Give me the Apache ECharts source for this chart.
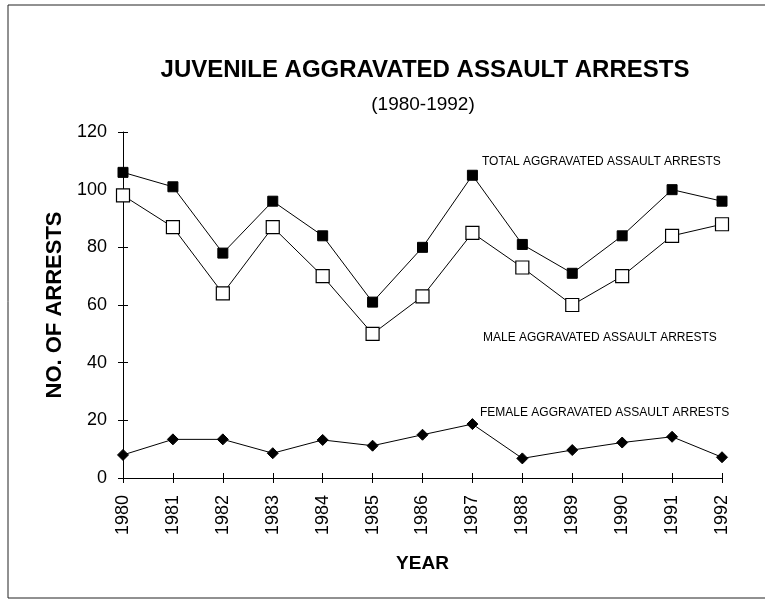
<!DOCTYPE html>
<html><head><meta charset="utf-8">
<script src="https://cdn.jsdelivr.net/npm/echarts@6/dist/echarts.min.js"></script>
<style>html,body{margin:0;padding:0;background:#fff}#c{width:765px;height:604px}</style>
</head><body><div id="c"></div>
<script>
var years = ['1980','1981','1982','1983','1984','1985','1986','1987','1988','1989','1990','1991','1992'];
var totalArrests = [106,101,78,96,84,61,80,105,81,71,84,100,96];
var maleArrests = [98,87,64,87,70,50,63,85,73,60,70,84,88];
var femaleArrests = [8,13.4,13.4,8.6,13.2,11.2,15,18.7,6.8,9.7,12.3,14.3,7.2];
var yTicks = [0,20,40,60,80,100,120];
var titleText = 'JUVENILE AGGRAVATED ASSAULT ARRESTS';
var subtitleText = '(1980-1992)';
var seriesLabels = ['TOTAL AGGRAVATED ASSAULT ARRESTS','MALE AGGRAVATED ASSAULT ARRESTS','FEMALE AGGRAVATED ASSAULT ARRESTS'];

var chart = echarts.init(document.getElementById('c'));
var F = 'Liberation Sans, Arial, sans-serif';
chart.setOption({
  animation:false,
  backgroundColor:'#fff',
  graphic:[
    {type:'rect', shape:{x:8,y:5,width:770,height:593}, style:{fill:'none', stroke:'#222', lineWidth:1}, silent:true},
    {type:'text', x:425, y:70, style:{text:titleText, font:'bold 24px '+F, fill:'#000', textAlign:'center', textVerticalAlign:'middle'}},
    {type:'text', x:423, y:105, style:{text:subtitleText, font:'19px '+F, fill:'#000', textAlign:'center', textVerticalAlign:'middle'}},
    {type:'text', x:482, y:162, style:{text:seriesLabels[0], font:'12px '+F, fill:'#000', textVerticalAlign:'middle'}},
    {type:'text', x:483, y:338, style:{text:seriesLabels[1], font:'12px '+F, fill:'#000', textVerticalAlign:'middle'}},
    {type:'text', x:480, y:413, style:{text:seriesLabels[2], font:'12px '+F, fill:'#000', textVerticalAlign:'middle'}}
  ],
  grid:{left:123, right:43, top:132, bottom:126},
  xAxis:[{type:'category', data:years, boundaryGap:false,
    name:'YEAR', nameLocation:'middle', nameGap:76,
    nameTextStyle:{fontFamily:F, fontSize:19, fontWeight:'bold', color:'#000'},
    axisLine:{lineStyle:{color:'#000', width:1}},
    axisTick:{length:5, lineStyle:{color:'#000'}},
    axisLabel:{rotate:90, fontFamily:F, fontSize:18, color:'#000', margin:17}
  },{type:'category', data:years, boundaryGap:false, position:'bottom',
    axisLine:{show:false}, axisLabel:{show:false},
    axisTick:{show:true, inside:true, length:5, lineStyle:{color:'#000'}}
  }],
  yAxis:[{type:'value', min:0, max:120, interval:20,
    name:'NO. OF ARRESTS', nameLocation:'middle', nameGap:52,
    nameTextStyle:{fontFamily:F, fontSize:22, fontWeight:'bold', color:'#000'},
    axisLine:{show:true, lineStyle:{color:'#000', width:1}},
    axisTick:{show:true, length:5, lineStyle:{color:'#000'}},
    splitLine:{show:false},
    axisLabel:{fontFamily:F, fontSize:18, color:'#000', margin:16,
      formatter:function(v){return yTicks.indexOf(v)>=0? String(v):'';}}
  },{type:'value', min:0, max:120, interval:20, position:'left',
    axisLine:{show:false}, axisLabel:{show:false}, splitLine:{show:false},
    axisTick:{show:true, inside:true, length:5, lineStyle:{color:'#000'}}
  }],
  series:[
    {name:'Total', type:'line', data:totalArrests, symbol:'rect', symbolSize:10,
     lineStyle:{color:'#000', width:1}, itemStyle:{color:'#000', borderColor:'#000'}},
    {name:'Male', type:'line', data:maleArrests, symbol:'rect', symbolSize:13,
     lineStyle:{color:'#000', width:1}, itemStyle:{color:'#fff', borderColor:'#000', borderWidth:1.2}},
    {name:'Female', type:'line', data:femaleArrests, symbol:'diamond', symbolSize:11,
     lineStyle:{color:'#000', width:1}, itemStyle:{color:'#000', borderColor:'#000'}}
  ]
});
</script></body></html>
